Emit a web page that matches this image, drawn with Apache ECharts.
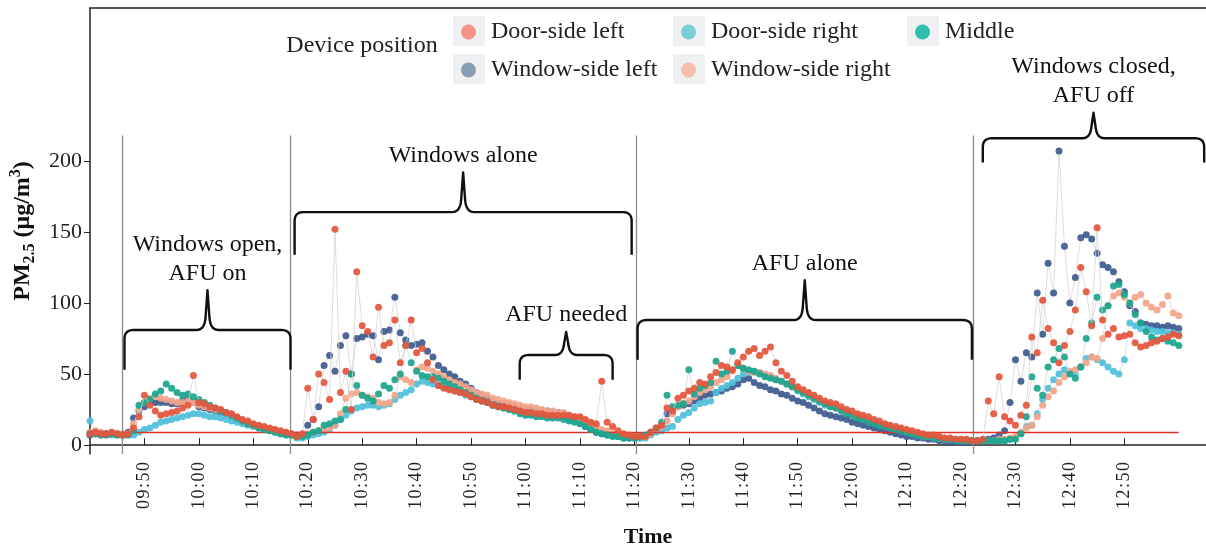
<!DOCTYPE html>
<html>
<head>
<meta charset="utf-8">
<title>PM2.5 by device position</title>
<script src="https://cdn.jsdelivr.net/npm/echarts@6/dist/echarts.min.js"></script>
<style>
  html, body { margin: 0; padding: 0; background: #fff; }
  #chart { width: 1206px; height: 547px; }
</style>
</head>
<body>
<div id="chart"></div>
<script>
// one reading per minute, first one at 09:40
var startTime = '09:40';
var endTime = '13:05';
var tickLabels = ['09:50', '10:00', '10:10', '10:20', '10:30', '10:40', '10:50', '11:00', '11:10', '11:20',
  '11:30', '11:40', '11:50', '12:00', '12:10', '12:20', '12:30', '12:40', '12:50'];
var yTicks = [0, 50, 100, 150, 200];

var doorLeft = [
  8, 9, 8, 8, 9, 8, 7, 8, 12, 20,
  35, 28, 24, 21, 22, 23, 24, 26, 28, 49,
  30, 29, 27, 26, 25, 23, 22, 20, 18, 17,
  15, 14, 13, 12, 11, 10, 9, 8, 6, 8,
  40, 18, 50, 44, 32, 152, 37, 52, 25, 122,
  84, 80, 62, 97, 70, 72, 88, 58, 70, 88,
  65, 68, 58, 46, 42, 40, 39, 38, 37, 36,
  34, 32, 31, 30, 28, 27, 27, 26, 25, 24,
  23, 23, 22, 22, 21, 21, 21, 21, 21, 20,
  20, 18, 16, 15, 45, 16, 13, 10, 8, 7,
  6, 6, 6, 9, 12, 14, 26, 24, 33, 35,
  38, 40, 44, 43, 48, 51, 56, 55, 53, 58,
  62, 66, 68, 63, 66, 69, 58, 52, 49, 45,
  41, 39, 37, 35, 33, 31, 30, 29, 27, 25,
  24, 22, 21, 20, 18, 17, 15, 14, 13, 12,
  11, 10, 9, 8, 7, 7, 6, 5, 5, 4,
  4, 4, 3, 3, 4, 31, 22, 48, 20, 17,
  14, 21, 28, 76, 65, 102, 82, 72, 58, 70,
  80, 95, 125, 108, 84, 153, 88, 78, 82, 76,
  77, 78, 72, 69, 70, 72, 73, 75, 76, 78,
  77];

var windowLeft = [
  7, 8, 7, 7, 8, 7, 7, 9, 19, 24,
  27, 31, 30, 30, 30, 29, 29, 31, 32, 30,
  27, 26, 25, 24, 23, 22, 20, 18, 16, 15,
  14, 13, 12, 11, 10, 9, 8, 7, 7, 7,
  14, 18, 27, 56, 63, 52, 70, 77, 50, 75,
  76, 78, 77, 60, 80, 81, 104, 79, 74, 70,
  71, 72, 66, 62, 56, 53, 50, 48, 45, 43,
  40, 37, 35, 33, 31, 29, 29, 28, 27, 26,
  25, 25, 24, 24, 24, 23, 23, 22, 19, 18,
  16, 13, 11, 9, 8, 7, 7, 6, 5, 5,
  5, 5, 6, 9, 11, 13, 22, 24, 27, 28,
  29, 31, 33, 35, 36, 37, 38, 40, 41, 43,
  46, 47, 44, 42, 41, 39, 38, 36, 35, 33,
  31, 30, 28, 26, 24, 22, 21, 20, 19, 18,
  16, 15, 14, 13, 12, 11, 10, 9, 8, 7,
  6, 6, 5, 5, 4, 4, 3, 3, 2, 2,
  2, 2, 2, 3, 3, 4, 5, 7, 10, 30,
  60, 45, 65, 62, 107, 78, 128, 107, 207, 140,
  100, 118, 146, 148, 145, 135, 127, 125, 122, 115,
  108, 98, 94, 86, 85, 84, 84, 83, 84, 83,
  82];

var doorRight = [
  17, 9, 8, 8, 7, 8, 7, 7, 7, 9,
  11, 12, 14, 16, 17, 18, 19, 20, 21, 22,
  22, 21, 20, 20, 19, 18, 17, 16, 15, 14,
  13, 12, 11, 10, 9, 8, 7, 7, 5, 5,
  6, 7, 8, 9, 11, 14, 18, 21, 24, 26,
  27, 28, 28, 27, 28, 29, 32, 35, 37, 39,
  43, 45, 44, 43, 42, 41, 40, 38, 37, 35,
  34, 32, 31, 30, 28, 27, 26, 25, 24, 23,
  22, 22, 22, 21, 21, 21, 21, 20, 18, 18,
  17, 15, 12, 10, 9, 8, 7, 6, 6, 5,
  5, 5, 5, 7, 9, 10, 12, 13, 18, 21,
  23, 26, 29, 30, 31, 37, 40, 42, 44, 47,
  50, 51, 52, 51, 49, 48, 46, 45, 43, 41,
  38, 36, 34, 32, 30, 28, 27, 26, 25, 23,
  21, 20, 18, 17, 16, 14, 13, 12, 11, 10,
  9, 8, 7, 6, 6, 5, 5, 4, 4, 4,
  3, 3, 3, 3, 3, 3, 3, 3, 3, 4,
  5, 8, 13, 14, 22, 32, 40, 46, 50, 53,
  51, 50, 55, 61, 62, 60, 58, 55, 52, 50,
  60, 86, 84, 82, 82, 81, 80, 80, 79, 79,
  78];

var windowRight = [
  9, 10, 9, 8, 9, 8, 8, 8, 15, 25,
  30, 33, 34, 33, 32, 31, 30, 30, 31, 30,
  28, 27, 26, 25, 24, 23, 21, 19, 17, 16,
  14, 13, 12, 11, 10, 9, 9, 8, 6, 7,
  8, 9, 10, 11, 12, 14, 22, 33, 36, 37,
  35, 34, 33, 30, 29, 30, 35, 48, 46, 44,
  53, 55, 54, 52, 50, 48, 46, 44, 43, 41,
  39, 37, 36, 35, 33, 32, 31, 30, 29, 28,
  27, 27, 26, 25, 24, 24, 23, 23, 21, 20,
  19, 17, 15, 13, 11, 10, 8, 7, 6, 6,
  6, 6, 6, 8, 11, 13, 17, 22, 27, 29,
  31, 34, 37, 39, 41, 44, 46, 48, 52, 56,
  54, 52, 51, 51, 50, 49, 47, 45, 43, 41,
  39, 37, 35, 33, 31, 29, 28, 26, 25, 23,
  21, 20, 19, 17, 16, 15, 14, 13, 12, 11,
  10, 9, 8, 7, 6, 6, 5, 5, 4, 4,
  4, 3, 3, 3, 3, 3, 3, 4, 4, 5,
  6, 9, 12, 14, 20, 28, 34, 38, 44, 48,
  52, 53, 55, 58, 62, 61, 75, 98, 105, 107,
  104, 100, 104, 106, 100, 97, 95, 99, 105, 93,
  91];

var middle = [
  8, 8, 7, 8, 8, 7, 7, 7, 10, 28,
  30, 32, 36, 38, 43, 40, 37, 35, 36, 34,
  32, 30, 28, 26, 24, 23, 21, 19, 17, 15,
  14, 12, 11, 10, 9, 8, 7, 7, 6, 6,
  7, 9, 10, 14, 15, 17, 18, 25, 50, 42,
  35, 33, 31, 36, 42, 40, 46, 50, 70, 58,
  52, 49, 48, 48, 47, 45, 43, 41, 39, 37,
  35, 33, 31, 30, 28, 27, 26, 25, 24, 22,
  21, 21, 20, 20, 19, 19, 19, 18, 17, 16,
  15, 13, 11, 9, 8, 7, 6, 6, 5, 5,
  5, 6, 7, 9, 12, 16, 35, 27, 28, 29,
  53, 36, 40, 42, 44, 59, 50, 52, 66, 56,
  54, 53, 52, 50, 48, 47, 46, 45, 43, 41,
  39, 37, 35, 33, 31, 29, 27, 26, 24, 22,
  21, 19, 18, 16, 15, 14, 13, 12, 11, 10,
  9, 8, 7, 6, 6, 5, 5, 4, 4, 3,
  3, 3, 3, 3, 3, 3, 3, 3, 3, 4,
  4, 8, 20, 48, 40, 35, 55, 60, 68, 62,
  50, 47, 55, 75, 86, 104, 95, 98, 112, 113,
  106, 100, 92, 86, 80, 76, 74, 75, 73, 72,
  70];

// when the ventilation setup changed
var phaseChanges = ['09:46:00', '10:16:50', '11:20:15', '12:22:10'];
var pmLimit = 9;

// braces above each phase (values in ug/m3 on the y axis)
var phases = [
  { from: '09:46:20', to: '10:16:50', foot: 53, bar: 81, peak: 109, text: ['Windows open,', 'AFU on'] },
  { from: '10:17:35', to: '11:19:30', foot: 134, bar: 164, peak: 192, text: ['Windows alone'] },
  { from: '10:58:56', to: '11:16:00', foot: 46, bar: 63.4, peak: 79.6, text: ['AFU needed'] },
  { from: '11:20:35', to: '12:22:00', foot: 60, bar: 88, peak: 116, text: ['AFU alone'] },
  { from: '12:24:00', to: '13:04:40', foot: 199, bar: 216, peak: 234, text: ['Windows closed,', 'AFU off'] }
];

var serif = '"Liberation Serif", "Times New Roman", serif';

function toMin(s) {
  var p = s.split(':');
  return +p[0] * 60 + +p[1] + (p[2] ? +p[2] / 60 : 0);
}
function hhmm(m) {
  var h = Math.floor(m / 60), mm = Math.round(m - h * 60);
  return (h < 10 ? '0' : '') + h + ':' + (mm < 10 ? '0' : '') + mm;
}
var t0 = toMin(startTime);
function withTime(vals) {
  return vals.map(function (v, i) { return [t0 + i, v]; });
}
var tickVals = tickLabels.map(toMin);

var positions = {
  'Door-side left':    { data: doorLeft,    dot: '#e4553c', key: '#f38c7e' },
  'Door-side right':   { data: doorRight,   dot: '#4ec0da', key: '#70cdd2' },
  'Middle':            { data: middle,      dot: '#1aa58d', key: '#20b9a3' },
  'Window-side left':  { data: windowLeft,  dot: '#3e5b8f', key: '#7f97ae' },
  'Window-side right': { data: windowRight, dot: '#f2a48a', key: '#f8baa6' }
};
// drawing order, last one ends up on top
var drawOrder = ['Window-side left', 'Door-side right', 'Window-side right', 'Middle', 'Door-side left'];

var series = drawOrder.map(function (name, i) {
  return {
    name: name,
    type: 'line',
    data: withTime(positions[name].data),
    symbol: 'circle',
    symbolSize: 7,
    showSymbol: true,
    showAllSymbol: true,
    itemStyle: { color: positions[name].dot, opacity: 0.92 },
    lineStyle: { color: '#d4d4d4', width: 0.8 },
    emphasis: { disabled: true },
    silent: true,
    z: 2 + i
  };
});
series[0].markLine = {
  silent: true,
  symbol: 'none',
  label: { show: false },
  lineStyle: { color: '#8a8a8a', width: 1.3, type: 'solid' },
  data: phaseChanges.map(function (t) {
    return [{ coord: [toMin(t), -6.3] }, { coord: [toMin(t), 218] }];
  })
};
series[series.length - 1].markLine = {
  silent: true,
  symbol: 'none',
  label: { show: false },
  lineStyle: { color: '#e0302a', width: 1.4, type: 'solid' },
  data: [[{ coord: [t0, pmLimit] }, { coord: [t0 + doorLeft.length - 1, pmLimit] }]]
};

function legendItem(name) {
  return { name: name, itemStyle: { color: positions[name].key } };
}
var legendBase = {
  orient: 'vertical',
  top: 17,
  padding: 0,
  itemGap: 8,
  itemWidth: 15,
  itemHeight: 15,
  icon: 'circle',
  selectedMode: false,
  textStyle: { fontFamily: serif, fontSize: 24, color: '#222', lineHeight: 30, padding: [0, 0, 0, 10] }
};

var chart = echarts.init(document.getElementById('chart'));
chart.setOption({
  animation: false,
  backgroundColor: '#fff',
  grid: { left: 90, right: 0, top: 8, bottom: 93, containLabel: false, outerBoundsMode: 'none' },
  legend: [
    Object.assign({}, legendBase, { left: 461, data: [legendItem('Door-side left'), legendItem('Window-side left')] }),
    Object.assign({}, legendBase, { left: 681, data: [legendItem('Door-side right'), legendItem('Window-side right')] }),
    Object.assign({}, legendBase, { left: 915, data: [legendItem('Middle')] })
  ],
  xAxis: [{
    type: 'value',
    min: t0,
    max: toMin(endTime),
    position: 'bottom',
    splitLine: { show: false },
    axisLine: { show: true, lineStyle: { color: '#222', width: 1.5 } },
    axisTick: { show: true, inside: true, length: 7, customValues: tickVals, lineStyle: { color: '#222' } },
    axisLabel: {
      customValues: tickVals,
      rotate: 90,
      margin: 8,
      fontFamily: serif,
      fontSize: 18,
      color: '#222',
      formatter: function (v) { return hhmm(v).split('').join('\u200a'); }
    },
    name: 'Time',
    nameLocation: 'middle',
    nameGap: 72,
    nameTextStyle: { fontFamily: serif, fontWeight: 'bold', fontSize: 22, color: '#111' }
  }, {
    type: 'value',
    min: t0,
    max: toMin(endTime),
    position: 'top',
    splitLine: { show: false },
    axisLine: { show: true, lineStyle: { color: '#222', width: 1.5 } },
    axisTick: { show: false },
    axisLabel: { show: false }
  }],
  yAxis: {
    type: 'value',
    min: -6.3,
    max: 307.7,
    splitLine: { show: false },
    axisLine: { show: true, lineStyle: { color: '#222', width: 1.5 } },
    axisTick: { show: true, length: 6, customValues: yTicks, lineStyle: { color: '#222' } },
    axisLabel: { customValues: yTicks, margin: 8, fontFamily: serif, fontSize: 22, color: '#222' },
    name: '{b|PM}{s|2.5}{b| (\u03bcg/m}{p|3}{b|)}',
    nameLocation: 'middle',
    nameRotate: 90,
    nameGap: 40,
    nameTextStyle: {
      fontFamily: serif, fontWeight: 'bold', fontSize: 24, color: '#111',
      rich: {
        b: { fontFamily: serif, fontWeight: 'bold', fontSize: 24, lineHeight: 30, color: '#111' },
        s: { fontFamily: serif, fontWeight: 'bold', fontSize: 16, lineHeight: 14, verticalAlign: 'bottom', color: '#111' },
        p: { fontFamily: serif, fontWeight: 'bold', fontSize: 16, lineHeight: 14, verticalAlign: 'top', color: '#111' }
      }
    }
  },
  series: series
});

// legend key backgrounds, "Device position" caption, braces with their notes
var keyBoxes = [[453, 16], [453, 54], [673, 16], [673, 54], [907, 16]];
var graphics = keyBoxes.map(function (p) {
  return { type: 'rect', shape: { x: p[0], y: p[1], width: 32, height: 30 }, style: { fill: '#eff0f2' }, z: 0, silent: true };
});
graphics.push({
  type: 'text', x: 362, y: 46, silent: true,
  style: { text: 'Device position', font: '24px ' + serif, fill: '#222', align: 'center', verticalAlign: 'middle' }
});

// quadratic curve sampled into points
function curve(p0, c, p1) {
  var pts = [];
  for (var k = 1; k <= 8; k++) {
    var t = k / 8, u = 1 - t;
    pts.push([u * u * p0[0] + 2 * u * t * c[0] + t * t * p1[0], u * u * p0[1] + 2 * u * t * c[1] + t * t * p1[1]]);
  }
  return pts;
}

phases.forEach(function (ph) {
  var a = chart.convertToPixel({ seriesIndex: 0 }, [toMin(ph.from), ph.bar]);
  var b = chart.convertToPixel({ seriesIndex: 0 }, [toMin(ph.to), ph.bar]);
  var yFoot = chart.convertToPixel({ seriesIndex: 0 }, [toMin(ph.from), ph.foot])[1];
  var yPeak = chart.convertToPixel({ seriesIndex: 0 }, [toMin(ph.from), ph.peak])[1];
  var x1 = a[0], x2 = b[0], y = a[1], xm = (x1 + x2) / 2;
  var r = 9;
  var pts = [[x1, yFoot], [x1, y + r]];
  pts = pts.concat(curve([x1, y + r], [x1, y], [x1 + r, y]));
  pts.push([xm - 11, y]);
  pts = pts.concat(curve([xm - 11, y], [xm - 3, y], [xm - 2, y - 12]));
  pts.push([xm, yPeak]);
  pts.push([xm + 2, y - 12]);
  pts = pts.concat(curve([xm + 2, y - 12], [xm + 3, y], [xm + 11, y]));
  pts.push([x2 - r, y]);
  pts = pts.concat(curve([x2 - r, y], [x2, y], [x2, y + r]));
  pts.push([x2, yFoot]);
  graphics.push({
    type: 'polyline', silent: true, z: 10,
    shape: { points: pts },
    style: { fill: null, stroke: '#111', lineWidth: 2.4, lineJoin: 'round' }
  });
  var n = ph.text.length;
  ph.text.forEach(function (line, k) {
    graphics.push({
      type: 'text', silent: true, z: 10,
      x: xm, y: yPeak - 17 - (n - 1 - k) * 29,
      style: { text: line, font: '24px ' + serif, fill: '#111', align: 'center', verticalAlign: 'middle' }
    });
  });
});

chart.setOption({ graphic: graphics });
</script>
</body>
</html>
